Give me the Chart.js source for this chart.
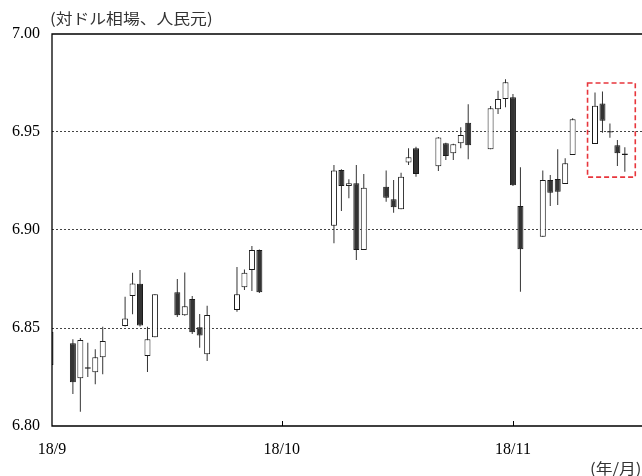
<!DOCTYPE html>
<html><head><meta charset="utf-8">
<script src="https://cdn.jsdelivr.net/npm/chart.js@4/dist/chart.umd.min.js"></script>
<style>html,body{margin:0;padding:0;background:#fff;}#wrap{width:642px;height:476px;}</style>
</head><body><div id="wrap"><canvas id="c" width="642" height="476"></canvas></div>
<script>
// ---- data (CNY per USD, daily candles) ----
const dates = ['2018-08-31','2018-09-03','2018-09-04','2018-09-05','2018-09-06','2018-09-07',
  '2018-09-10','2018-09-11','2018-09-12','2018-09-13','2018-09-14',
  '2018-09-17','2018-09-18','2018-09-19','2018-09-20','2018-09-21',
  '2018-09-25','2018-09-26','2018-09-27','2018-09-28',
  '2018-10-08','2018-10-09','2018-10-10','2018-10-11','2018-10-12',
  '2018-10-15','2018-10-16','2018-10-17','2018-10-18','2018-10-19',
  '2018-10-22','2018-10-23','2018-10-24','2018-10-25','2018-10-26',
  '2018-10-29','2018-10-30','2018-10-31','2018-11-01','2018-11-02',
  '2018-11-05','2018-11-06','2018-11-07','2018-11-08','2018-11-09',
  '2018-11-12','2018-11-13','2018-11-14','2018-11-15','2018-11-16'];
const opens  = [6.8481,6.8422,6.8243,6.8300,6.8274,6.8351,
  6.8510,6.8663,6.8726,6.8357,6.8453,
  6.8682,6.8565,6.8648,6.8504,6.8366,
  6.8592,6.8708,6.8796,6.8898,
  6.9022,6.9306,6.9224,6.9238,6.8898,
  6.9221,6.9157,6.9106,6.9345,6.9417,
  6.9325,6.9442,6.9391,6.9442,6.9547,
  6.9412,6.9616,6.9668,6.9677,6.9122,
  6.8966,6.9255,6.9260,6.9235,6.9383,
  6.9439,6.9646,6.9504,6.9432,6.9390];
const highs  = [6.8485,6.8442,6.8449,6.8425,6.8391,6.8507,
  6.8660,6.8782,6.8796,6.8507,6.8672,
  6.8750,6.8783,6.8663,6.8571,6.8614,
  6.8811,6.8799,6.8918,6.8900,
  6.9332,6.9310,6.9259,6.9332,6.9286,
  6.9303,6.9255,6.9292,6.9417,6.9425,
  6.9475,6.9445,6.9440,6.9524,6.9641,
  6.9633,6.9711,6.9769,6.9694,6.9320,
  6.9303,6.9281,6.9412,6.9366,6.9570,
  6.9701,6.9706,6.9544,6.9459,6.9422];
const lows   = [6.8300,6.8163,6.8073,6.8250,6.8213,6.8264,
  6.8508,6.8570,6.8508,6.8276,6.8453,
  6.8556,6.8563,6.8469,6.8399,6.8332,
  6.8583,6.8694,6.8689,6.8679,
  6.8932,6.9097,6.9162,6.8847,6.8898,
  6.9144,6.9088,6.9106,6.9332,6.9272,
  6.9301,6.9357,6.9357,6.9417,6.9361,
  6.9412,6.9592,6.9626,6.9225,6.8685,
  6.8966,6.9122,6.9128,6.9235,6.9383,
  6.9439,6.9496,6.9471,6.9327,6.9297];
const closes = [6.8311,6.8223,6.8439,6.8292,6.8351,6.8434,
  6.8549,6.8727,6.8513,6.8442,6.8672,
  6.8565,6.8611,6.8478,6.8462,6.8566,
  6.8672,6.8782,6.8898,6.8682,
  6.9303,6.9224,6.9238,6.8898,6.9216,
  6.9165,6.9116,6.9272,6.9371,6.9286,
  6.9472,6.9378,6.9437,6.9485,6.9432,
  6.9621,6.9668,6.9754,6.9228,6.8902,
  6.9255,6.9190,6.9195,6.9340,6.9565,
  6.9634,6.9558,6.9497,6.9391,6.9383];
const yTicks = [6.80, 6.85, 6.90, 6.95, 7.00];
const xTickLabels = ['18/9', '18/10', '18/11'];
const xTickDates = [null, '2018-10-01', '2018-11-01']; // first label sits at the axis start
const highlight = {from: 72.0, to: 78.4, low: 6.927, high: 6.975}; // red dashed box (days, CNY)
const titleText = '(対ドル相場、人民元)';
const unitText = '(年/月)';

// ---- derived ----
const base = Date.parse(dates[0]);
const dayOf = s => (Date.parse(s) - base) / 864e5;
const days = dates.map(dayOf);
const X_MIN = 0.2, X_MAX = 79.3;
const xTickDays = xTickDates.map(s => s === null ? X_MIN : dayOf(s));
const up = closes.map((c, i) => c >= opens[i]);

function stretchedText(ctx, text, x, y, sx) {
  ctx.save(); ctx.translate(x, y); ctx.scale(sx, 1); ctx.fillText(text, 0, 0); ctx.restore();
}

const framePlugin = {
  id: 'frame',
  afterDatasetsDraw(chart) {
    const {ctx, chartArea: a, scales: {x, y}} = chart;
    ctx.save();
    ctx.strokeStyle = '#000'; ctx.lineWidth = 1.3; ctx.setLineDash([]);
    ctx.beginPath();
    ctx.moveTo(a.right + 2, a.top); ctx.lineTo(a.left, a.top);
    ctx.lineTo(a.left, a.bottom); ctx.lineTo(a.right + 2, a.bottom);
    ctx.stroke();
    ctx.lineWidth = 1;
    xTickDays.slice(1).forEach(d => {
      const px = Math.round(x.getPixelForValue(d)) + 0.5;
      ctx.beginPath(); ctx.moveTo(px, a.bottom); ctx.lineTo(px, a.bottom - 5); ctx.stroke();
    });
    ctx.strokeStyle = '#e8363c'; ctx.lineWidth = 1.6; ctx.setLineDash([5, 3]);
    const x1 = x.getPixelForValue(highlight.from), x2 = x.getPixelForValue(highlight.to);
    const y1 = y.getPixelForValue(highlight.high), y2 = y.getPixelForValue(highlight.low);
    ctx.strokeRect(x1, y1, x2 - x1, y2 - y1);
    ctx.setLineDash([]);
    ctx.fillStyle = '#333';
    ctx.font = '15px "Noto Sans CJK JP"';
    ctx.textBaseline = 'middle'; ctx.textAlign = 'left';
    stretchedText(ctx, titleText, a.left - 2, 18, 1.12);
    stretchedText(ctx, unitText, 590, 468, 1.12);
    ctx.restore();
  }
};

new Chart(document.getElementById('c').getContext('2d'), {
  type: 'bar',
  data: {
    datasets: [
      {
        label: 'body', order: 0, grouped: false, clip: 0,
        data: days.map((d, i) => ({x: d, y: [opens[i], closes[i]]})),
        barThickness: 6, borderWidth: 1, borderSkipped: false, inflateAmount: 0,
        backgroundColor: up.map(u => u ? '#ffffff' : '#333333'),
        borderColor: '#1a1a1a'
      },
      {
        label: 'wick', order: 1, grouped: false, clip: 0,
        data: days.map((d, i) => ({x: d, y: [lows[i], highs[i]]})),
        barThickness: 1, borderWidth: 0, inflateAmount: 0,
        backgroundColor: '#333333'
      }
    ]
  },
  options: {
    responsive: false, animation: false, devicePixelRatio: 1,
    layout: {padding: {top: 34, left: 0, right: 0, bottom: 0}},
    plugins: {legend: {display: false}, tooltip: {enabled: false}},
    scales: {
      x: {
        type: 'linear', min: X_MIN, max: X_MAX, offset: false,
        grid: {display: false, offset: false}, border: {display: false},
        afterBuildTicks: s => { s.ticks = xTickDays.map(v => ({value: v})); },
        afterFit: s => { s.height = 50; },
        ticks: {autoSkip: false, maxRotation: 0, padding: 6, color: '#000',
          font: {family: 'Liberation Serif', size: 16},
          callback: (v, i) => xTickLabels[i]}
      },
      y: {
        min: 6.8, max: 7.0,
        afterBuildTicks: s => { s.ticks = yTicks.map(v => ({value: v})); },
        afterFit: s => { s.width = 52; },
        grid: {drawTicks: false, lineWidth: 1,
          color: c => (c.tick && (Math.abs(c.tick.value - 6.8) < 1e-6 || Math.abs(c.tick.value - 7.0) < 1e-6)) ? 'rgba(0,0,0,0)' : '#444'},
        border: {display: false, dash: [2, 2]},
        ticks: {padding: 12, color: '#000', font: {family: 'Liberation Serif', size: 16},
          callback: v => Number(v).toFixed(2)}
      }
    }
  },
  plugins: [framePlugin]
});
</script></body></html>
